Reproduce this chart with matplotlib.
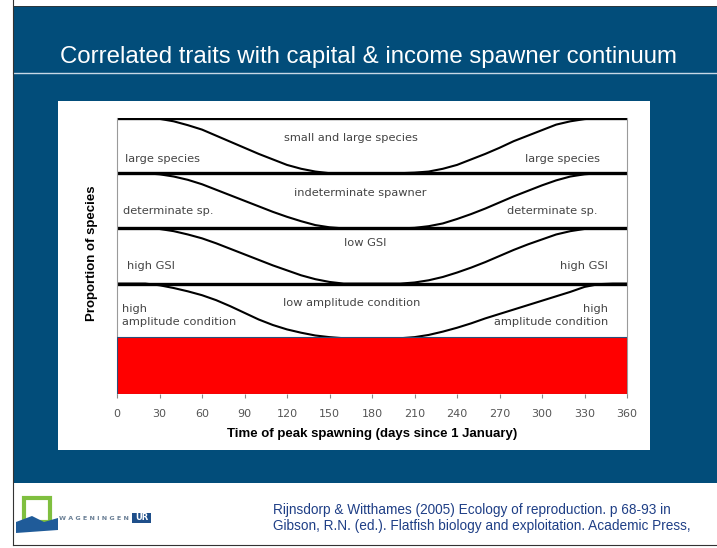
import matplotlib
matplotlib.use("Agg")
import matplotlib.pyplot as plt
from matplotlib.patches import Rectangle, Polygon

days = list(range(0, 361, 10))

# fraction of each band below the dividing curve (0 = top of band, 1 = bottom)
size_curve = [0, 0, 0, 0.015, 0.06, 0.13, 0.21, 0.32, 0.43, 0.54, 0.65, 0.75, 0.85,
              0.92, 0.97, 1, 1, 1, 1, 1, 1, 0.99, 0.97, 0.92, 0.85, 0.75, 0.65,
              0.54, 0.42, 0.32, 0.22, 0.12, 0.06, 0.02, 0, 0, 0]
spawner_curve = [0, 0, 0, 0.02, 0.06, 0.12, 0.20, 0.30, 0.40, 0.50, 0.60, 0.70, 0.79,
                 0.87, 0.94, 0.98, 1, 1, 1, 1, 1, 0.99, 0.96, 0.91, 0.83, 0.74, 0.64,
                 0.53, 0.42, 0.32, 0.22, 0.13, 0.06, 0.02, 0, 0, 0]
gsi_curve = [0, 0, 0, 0.01, 0.05, 0.11, 0.18, 0.27, 0.37, 0.47, 0.57, 0.67, 0.76,
             0.85, 0.92, 0.97, 1, 1, 1, 1, 1, 0.98, 0.94, 0.88, 0.80, 0.71, 0.61,
             0.50, 0.39, 0.29, 0.20, 0.11, 0.05, 0.01, 0, 0, 0]
condition_curve = [0, 0, 0, 0.03, 0.08, 0.14, 0.21, 0.30, 0.41, 0.53, 0.65, 0.75, 0.83,
                   0.89, 0.94, 0.97, 0.99, 1, 1, 1, 0.99, 0.97, 0.93, 0.87, 0.80, 0.72,
                   0.63, 0.55, 0.47, 0.39, 0.31, 0.23, 0.15, 0.06, 0.01, 0, 0]
curves = [size_curve, spawner_curve, gsi_curve, condition_curve]

centre_labels = ["small and large species", "indeterminate spawner",
                 "low GSI", "low amplitude condition"]
side_labels = ["large species", "determinate sp.", "high GSI",
               "high\namplitude condition"]
xticks = list(range(0, 361, 30))

title = "Correlated traits with capital & income spawner continuum"
citation = ("Rijnsdorp & Witthames (2005) Ecology of reproduction. p 68-93 in\n"
            "Gibson, R.N. (ed.). Flatfish biology and exploitation. Academic Press,")

W, H = 717, 548
BLUE = "#024d7a"
LABEL_GREY = "#444444"
fig = plt.figure(figsize=(W / 100, H / 100), dpi=100)
fig.patch.set_facecolor("white")

# slide background, in pixel coordinates
bg = fig.add_axes([0, 0, 1, 1])
bg.set_xlim(0, W)
bg.set_ylim(H, 0)
bg.axis("off")
bg.add_patch(Rectangle((13, 6), W - 13, 477, facecolor=BLUE, edgecolor="none"))
bg.plot([13, W], [73, 73], color="#c8d8e6", lw=1)
bg.plot([13, 13], [0, 545], color="#333333", lw=0.8)
bg.plot([13, W], [545, 545], color="#333333", lw=0.8)
bg.plot([13, W], [6, 6], color="#333333", lw=0.6)
bg.text(368, 57, title, color="white", fontsize=17.3, ha="center", va="center",
        family="Liberation Sans")
bg.add_patch(Rectangle((58, 101), 592, 349, facecolor="white", edgecolor="none"))

# footer: logo and reference
bg.add_patch(Rectangle((24, 498), 26, 24, facecolor="none", edgecolor="#7fbf3f", lw=3))
bg.add_patch(Polygon([[16, 522], [32, 516], [44, 522], [58, 518], [58, 530], [16, 533]],
                     closed=True, facecolor="#1f5b99", edgecolor="none"))
bg.text(129, 518, "W A G E N I N G E N", fontsize=4.6, color="#6a7f95",
        ha="right", va="center", family="DejaVu Sans", fontweight="bold")
bg.add_patch(Rectangle((132, 513), 19, 10, facecolor="#1f4f8a", edgecolor="none"))
bg.text(141.5, 518, "UR", fontsize=6, color="white", ha="center", va="center",
        fontweight="bold")
bg.text(273, 518, citation, color="#1f3f86", fontsize=9.8, ha="left", va="center",
        family="Liberation Sans", linespacing=1.18)

# chart axes
ax = fig.add_axes([117 / W, 1 - 394 / H, 510 / W, 276 / H])
ax.set_xlim(0, 360)
ax.set_ylim(0, 5)
ax.set_facecolor("white")
for side in ["top", "bottom"]:
    ax.spines[side].set_visible(False)
for side in ["left", "right"]:
    ax.spines[side].set_color("#9a9a9a")
    ax.spines[side].set_linewidth(0.8)

centre_x = [165, 172, 175, 166]
centre_dy = [0.36, 0.36, 0.27, 0.36]
side_left = [5.5, 4, 7, 3.5]
side_right = [341, 339, 346.5, 346.5]
side_dy = [0.75, 0.69, 0.69, 0.585]

for k, (curve, clab, slab) in enumerate(zip(curves, centre_labels, side_labels)):
    top = 5 - k
    ax.axhline(top, color="black", lw=2.4)
    ax.plot(days, [top - f for f in curve], color="black", lw=1.5,
            solid_joinstyle="round")
    ax.text(centre_x[k], top - centre_dy[k], clab, ha="center", va="center",
            fontsize=8.2, color=LABEL_GREY)
    ax.text(side_left[k], top - side_dy[k], slab, ha="left", va="center",
            fontsize=8.2, color=LABEL_GREY, linespacing=1.4)
    ax.text(side_right[k], top - side_dy[k], slab, ha="right", va="center",
            fontsize=8.2, color=LABEL_GREY, linespacing=1.4,
            multialignment="right")
ax.axhline(1, color="black", lw=2.4)

# red box covering the lowest panel
ax.add_patch(Rectangle((0, 0), 360, 1.03, facecolor="#ff0000", edgecolor="#2b4f7a",
                       lw=0.8, zorder=5))

ax.set_xticks(xticks)
ax.set_yticks([])
ax.tick_params(axis="x", length=3, color="#888888", labelsize=8,
               labelcolor="#555555", pad=8)
ax.set_xlabel("Time of peak spawning (days since 1 January)", fontsize=9.5,
              fontweight="bold", family="Liberation Sans", labelpad=6)
ax.set_ylabel("Proportion of species", fontsize=9.5, fontweight="bold",
              family="Liberation Sans")
ax.yaxis.set_label_coords(-0.037, 0.51)

fig.savefig("out.png", dpi=100)
